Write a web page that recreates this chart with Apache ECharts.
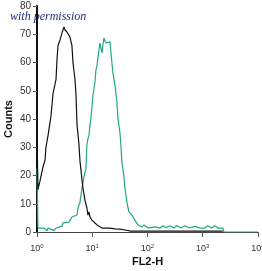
<!DOCTYPE html>
<html>
<head>
<meta charset="utf-8">
<script src="https://cdn.jsdelivr.net/npm/echarts@6/dist/echarts.min.js"></script>
<style>
  html, body { margin: 0; padding: 0; background: #fff; }
  #chart { width: 262px; height: 271px; }
</style>
</head>
<body>
<div id="chart"></div>
<script>
// FL2-H channel values (log scale) and counts
let isotypeFL2 = [1, 1.04, 1.13, 1.28, 1.4, 1.45, 1.58, 1.79, 1.95, 2.21, 2.3, 2.4, 2.61, 2.83, 2.95, 3.08, 3.21, 3.35, 3.49, 3.79, 3.95, 4.29, 4.48, 4.87, 5.08, 5.3, 5.75, 6.0, 6.25, 6.52, 6.79, 7.37, 8.0, 8.36, 8.72, 9.1, 9.86, 11.2, 12.2, 15.0, 20.9, 25.7, 31.6, 39, 50, 2300];
let isotypeCounts = [35, 15, 18, 23, 25.5, 30, 34, 41, 49, 54, 61, 66, 68, 70.5, 71.5, 72.6, 71.5, 72.2, 70.8, 71.2, 69, 66, 60, 54, 48.5, 38, 31, 25, 22, 18.4, 15.6, 11.3, 8.5, 6, 7.1, 5.3, 4.2, 3.2, 2.5, 1.4, 1.4, 1.1, 1, 0.7, 0.3, 0.3];

let stainedFL2 = [1, 1.04, 1.34, 1.52, 1.58, 2.03, 2.21, 2.83, 2.95, 3.79, 4.29, 5.3, 5.52, 6.0, 6.52, 6.79, 7.37, 7.68, 8.0, 8.36, 8.72, 9.1, 9.48, 9.86, 10.3, 11.2, 11.66, 12.2, 12.7, 13.8, 14.4, 15.0, 15.6, 16.3, 17.7, 18.4, 20.9, 21.8, 22.7, 23.7, 25.7, 28.0, 29.1, 31.6, 33.0, 34.4, 37.4, 39.0, 42.4, 46.1, 52.4, 59.1, 67.0, 79.4, 86.6, 101.7, 136, 168, 190, 215, 254, 300, 340, 401, 474, 584, 718, 883, 1087, 1234, 1457, 1654, 1878, 2316, 2414, 10000];
let stainedCounts = [22.6, 1.4, 1.4, 0.4, 1.4, 0.5, 1.4, 2.1, 3.2, 3.5, 5.3, 6, 8.5, 10.6, 15.6, 16, 21.2, 22, 30.8, 33, 34.3, 37.9, 40.4, 44, 48.5, 53, 57.3, 59, 61.9, 66.9, 67.6, 63.4, 66.2, 68.7, 66.9, 67.3, 67.3, 66.9, 59.8, 56.3, 52, 46, 40.4, 35.4, 30.8, 24.8, 19.8, 15.6, 10.6, 7.1, 6, 4.2, 2.5, 1.8, 2.5, 1.4, 1.8, 1.4, 2.2, 1.5, 2.2, 1.4, 2.3, 1.4, 2.2, 1.4, 2.0, 1.4, 1.4, 2.2, 1.4, 2.2, 1.4, 1.4, 0, 0];

let countTicks = [0, 80, 10]; // min, max, interval

let labelFont = 'Liberation Sans Narrow, Arial Narrow, Arial, sans-serif';

function pairs(xs, ys) {
  return xs.map(function (x, i) { return [x, ys[i]]; });
}

let option = {
  animation: false,
  grid: { left: 37, right: 4, top: 6, bottom: 39, outerBoundsMode: 'none', containLabel: false },
  xAxis: {
    type: 'log',
    logBase: 10,
    min: 1,
    max: 10000,
    name: 'FL2-H',
    nameLocation: 'middle',
    nameGap: 24,
    nameMoveOverlap: false,
    nameTextStyle: { fontFamily: 'Arial, Liberation Sans, sans-serif', fontWeight: 'bold', fontSize: 11, color: '#111' },
    axisLine: { lineStyle: { color: '#444', width: 1 } },
    axisTick: { length: 5, lineStyle: { color: '#555' } },
    splitLine: { show: false },
    axisLabel: {
      margin: 11,
      formatter: function (v) {
        return '{b|10}{s|' + Math.round(Math.log10(v)) + '}';
      },
      rich: {
        b: { fontFamily: labelFont, fontSize: 9, color: '#333' },
        s: { fontFamily: labelFont, fontSize: 6, color: '#333', verticalAlign: 'top', padding: [0, 0, 5, 0] }
      }
    }
  },
  yAxis: {
    type: 'value',
    min: countTicks[0],
    max: countTicks[1],
    interval: countTicks[2],
    name: 'Counts',
    nameLocation: 'middle',
    nameGap: 23,
    nameMoveOverlap: false,
    nameTextStyle: { fontFamily: 'Arial, Liberation Sans, sans-serif', fontWeight: 'bold', fontSize: 11, color: '#111' },
    axisLine: { show: true, lineStyle: { color: '#111', width: 2 } },
    axisTick: { show: true, length: 4, lineStyle: { color: '#555' } },
    splitLine: { show: false },
    axisLabel: { margin: 6, fontFamily: labelFont, fontSize: 10, color: '#333' }
  },
  graphic: [{
    type: 'text',
    left: 10,
    top: 11,
    style: {
      text: 'with permission',
      fontFamily: 'Liberation Serif, DejaVu Serif, serif',
      fontStyle: 'italic',
      fontSize: 12,
      fill: '#1f2f7a'
    }
  }],
  series: [
    {
      name: 'isotype',
      type: 'line',
      data: pairs(isotypeFL2, isotypeCounts),
      showSymbol: false,
      lineStyle: { color: '#111', width: 1.2 },
      z: 3
    },
    {
      name: 'stained',
      type: 'line',
      data: pairs(stainedFL2, stainedCounts),
      showSymbol: false,
      lineStyle: { color: '#20a887', width: 1.2 },
      z: 2
    }
  ]
};

var chart = echarts.init(document.getElementById('chart'));
chart.setOption(option);
</script>
</body>
</html>
